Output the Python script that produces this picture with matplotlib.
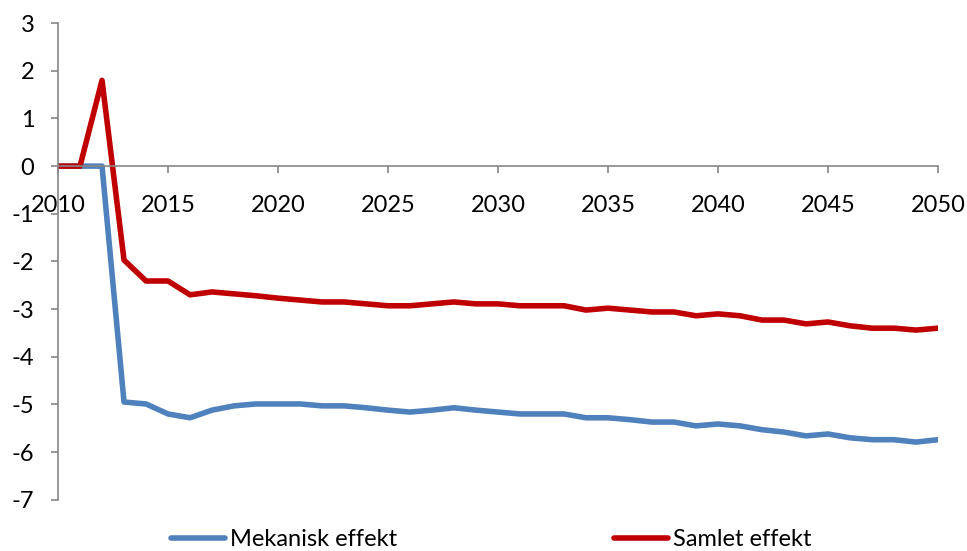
import matplotlib.pyplot as plt
import numpy as np

years = np.arange(2010, 2051)
mekanisk = [0, 0, 0, -4.95, -4.99, -5.2, -5.28, -5.12, -5.03, -4.99,
            -4.99, -4.99, -5.03, -5.03, -5.07, -5.12, -5.16, -5.12, -5.07, -5.12,
            -5.16, -5.2, -5.2, -5.2, -5.28, -5.28, -5.32, -5.37, -5.37, -5.45,
            -5.41, -5.45, -5.53, -5.58, -5.66, -5.62, -5.7, -5.74, -5.74, -5.79,
            -5.74]
samlet = [0, 0, 1.8, -1.97, -2.41, -2.41, -2.7, -2.64, -2.68, -2.72,
          -2.77, -2.81, -2.85, -2.85, -2.89, -2.93, -2.93, -2.89, -2.85, -2.89,
          -2.89, -2.93, -2.93, -2.93, -3.02, -2.98, -3.02, -3.06, -3.06, -3.14,
          -3.1, -3.14, -3.23, -3.23, -3.31, -3.27, -3.35, -3.4, -3.4, -3.44,
          -3.4]

plt.rcParams['font.family'] = ['Lato', 'DejaVu Sans']
plt.rcParams['axes.unicode_minus'] = False

fig = plt.figure(figsize=(9.67, 5.51), dpi=100)
ax = fig.add_axes([0.06, 0.093, 0.91, 0.865])

ax.plot(years, mekanisk, color='#4F81BD', lw=4, label='Mekanisk effekt',
        solid_capstyle='round', solid_joinstyle='round')
ax.plot(years, samlet, color='#C00000', lw=4, label='Samlet effekt',
        solid_capstyle='round', solid_joinstyle='round')

ax.set_xlim(2010, 2050)
ax.set_ylim(-7, 3)
ax.set_xticks(range(2010, 2051, 5))
ax.set_yticks(range(-7, 4))

gray = '#868686'
ax.spines['top'].set_visible(False)
ax.spines['right'].set_visible(False)
ax.spines['bottom'].set_position(('data', 0))
for s in ['left', 'bottom']:
    ax.spines[s].set_color(gray)
    ax.spines[s].set_linewidth(1.2)
ax.tick_params(axis='both', colors=gray, labelcolor='black', labelsize=17,
               length=5, width=1.2, direction='out')
ax.tick_params(axis='x', pad=16)
ax.tick_params(axis='y', pad=12)

fig.legend(loc='center', bbox_to_anchor=(0.508, 0.02), ncol=2, frameon=False,
           fontsize=17, handlelength=2.3, handletextpad=0.2, columnspacing=9.2)

fig.savefig('out.png', dpi=100)
